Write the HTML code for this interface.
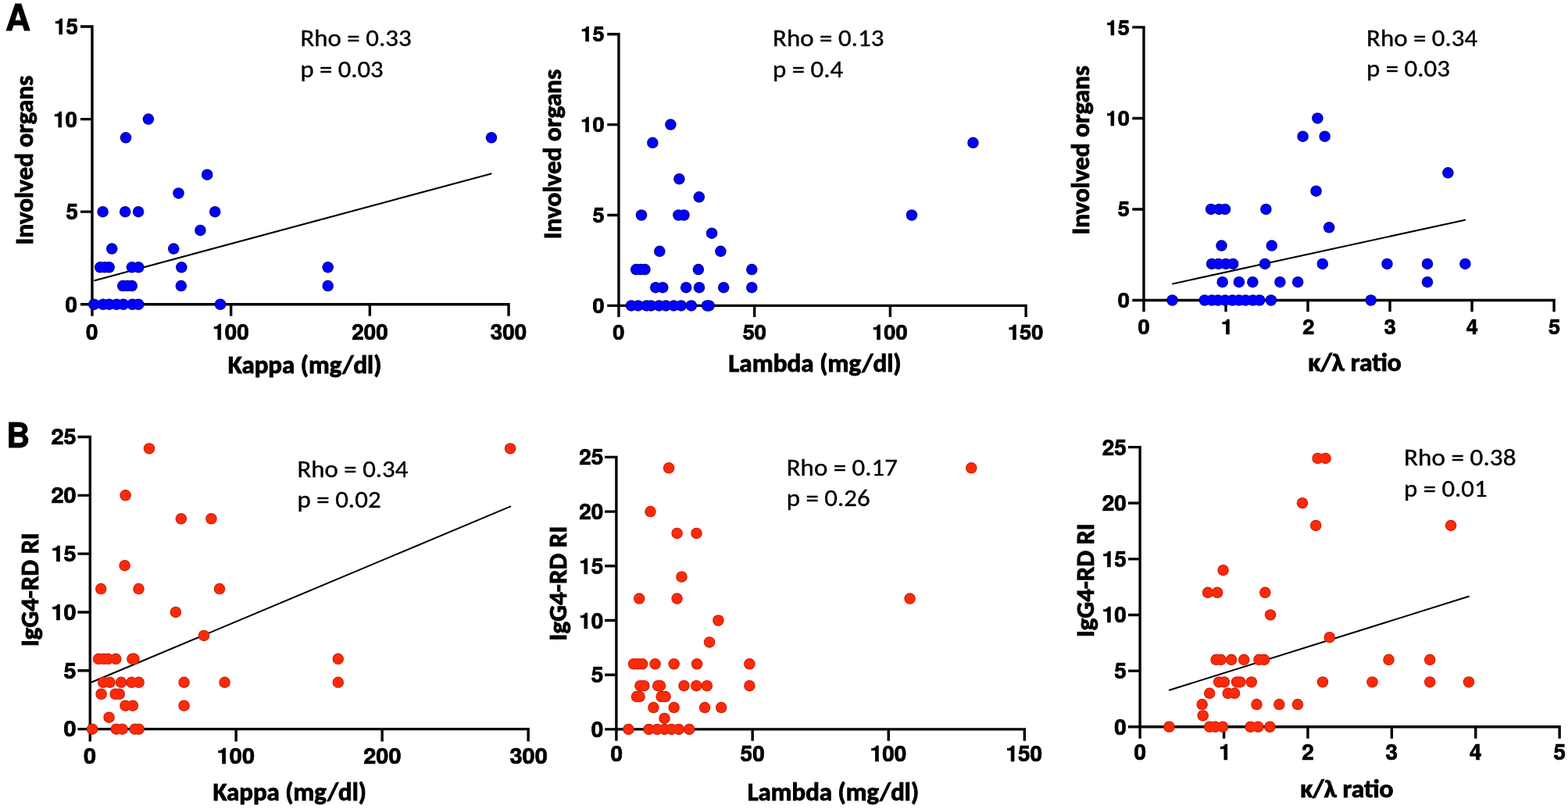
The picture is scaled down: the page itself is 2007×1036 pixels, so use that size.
<!DOCTYPE html>
<html><head><meta charset="utf-8"><title>Figure</title>
<style>
html,body{margin:0;padding:0;background:#fff;overflow:hidden;}
svg{display:block;}
text{fill:#000;}
.t,.p{font-family:'TeX Gyre Heros', FreeSans, 'Liberation Sans', Arial, sans-serif;font-weight:bold;stroke:#000;stroke-width:0.7px;}
.p{stroke-width:0.9px;}
.l{font-family:Carlito, Calibri, 'Liberation Sans', sans-serif;font-weight:bold;stroke:#000;stroke-width:0.9px;}
.a{font-family:Carlito, Calibri, 'Liberation Sans', sans-serif;font-weight:normal;stroke:#000;stroke-width:0.35px;}
</style></head>
<body>
<svg width="2007" height="1036" viewBox="0 0 2007 1036">
<rect width="2007" height="1036" fill="#fff"/>
<path d="M102.95,34H117.95V404.75M102.95,389.75H651.05V404.75M102.95,271.17H117.95M102.95,152.58H117.95M295.65,389.75V404.75M473.35,389.75V404.75" fill="none" stroke="#000" stroke-width="3.4"/>
<path d="M121.2,359.25L628.6,222.4" stroke="#000" stroke-width="2.05" stroke-linecap="round"/>
<g fill="#00008c"><circle cx="189.9" cy="152.58" r="7.25"/><circle cx="161" cy="176.3" r="7.25"/><circle cx="629" cy="176.3" r="7.25"/><circle cx="265.2" cy="223.73" r="7.25"/><circle cx="228.5" cy="247.45" r="7.25"/><circle cx="131.6" cy="271.17" r="7.25"/><circle cx="160.2" cy="271.17" r="7.25"/><circle cx="177.1" cy="271.17" r="7.25"/><circle cx="275.2" cy="271.17" r="7.25"/><circle cx="256.4" cy="294.88" r="7.25"/><circle cx="143.2" cy="318.6" r="7.25"/><circle cx="222.2" cy="318.6" r="7.25"/><circle cx="128.2" cy="342.32" r="7.25"/><circle cx="134" cy="342.32" r="7.25"/><circle cx="139.7" cy="342.32" r="7.25"/><circle cx="168.9" cy="342.32" r="7.25"/><circle cx="177.3" cy="342.32" r="7.25"/><circle cx="232.3" cy="342.32" r="7.25"/><circle cx="419.7" cy="342.32" r="7.25"/><circle cx="157.2" cy="366.03" r="7.25"/><circle cx="163" cy="366.03" r="7.25"/><circle cx="168.8" cy="366.03" r="7.25"/><circle cx="231.8" cy="366.03" r="7.25"/><circle cx="419.7" cy="366.03" r="7.25"/><circle cx="120.3" cy="389.75" r="7.25"/><circle cx="131.9" cy="389.75" r="7.25"/><circle cx="139.8" cy="389.75" r="7.25"/><circle cx="149.2" cy="389.75" r="7.25"/><circle cx="157.9" cy="389.75" r="7.25"/><circle cx="169.5" cy="389.75" r="7.25"/><circle cx="177.1" cy="389.75" r="7.25"/><circle cx="282" cy="389.75" r="7.25"/></g>
<g fill="#0000fe"><circle cx="189.9" cy="152.58" r="6.2"/><circle cx="161" cy="176.3" r="6.2"/><circle cx="629" cy="176.3" r="6.2"/><circle cx="265.2" cy="223.73" r="6.2"/><circle cx="228.5" cy="247.45" r="6.2"/><circle cx="131.6" cy="271.17" r="6.2"/><circle cx="160.2" cy="271.17" r="6.2"/><circle cx="177.1" cy="271.17" r="6.2"/><circle cx="275.2" cy="271.17" r="6.2"/><circle cx="256.4" cy="294.88" r="6.2"/><circle cx="143.2" cy="318.6" r="6.2"/><circle cx="222.2" cy="318.6" r="6.2"/><circle cx="128.2" cy="342.32" r="6.2"/><circle cx="134" cy="342.32" r="6.2"/><circle cx="139.7" cy="342.32" r="6.2"/><circle cx="168.9" cy="342.32" r="6.2"/><circle cx="177.3" cy="342.32" r="6.2"/><circle cx="232.3" cy="342.32" r="6.2"/><circle cx="419.7" cy="342.32" r="6.2"/><circle cx="157.2" cy="366.03" r="6.2"/><circle cx="163" cy="366.03" r="6.2"/><circle cx="168.8" cy="366.03" r="6.2"/><circle cx="231.8" cy="366.03" r="6.2"/><circle cx="419.7" cy="366.03" r="6.2"/><circle cx="120.3" cy="389.75" r="6.2"/><circle cx="131.9" cy="389.75" r="6.2"/><circle cx="139.8" cy="389.75" r="6.2"/><circle cx="149.2" cy="389.75" r="6.2"/><circle cx="157.9" cy="389.75" r="6.2"/><circle cx="169.5" cy="389.75" r="6.2"/><circle cx="177.1" cy="389.75" r="6.2"/><circle cx="282" cy="389.75" r="6.2"/></g>
<path d="M777.25,43.7H791.95V406.1M777.25,391.4H1313.15V406.1M777.25,275.5H791.95M777.25,159.6H791.95M965.68,391.4V406.1M1139.42,391.4V406.1" fill="none" stroke="#000" stroke-width="3.4"/>
<g fill="#00008c"><circle cx="858.4" cy="159.6" r="7.25"/><circle cx="835.3" cy="182.78" r="7.25"/><circle cx="1245.5" cy="182.78" r="7.25"/><circle cx="869.4" cy="229.14" r="7.25"/><circle cx="894.8" cy="252.32" r="7.25"/><circle cx="821" cy="275.5" r="7.25"/><circle cx="868.4" cy="275.5" r="7.25"/><circle cx="875.5" cy="275.5" r="7.25"/><circle cx="1167" cy="275.5" r="7.25"/><circle cx="911.1" cy="298.68" r="7.25"/><circle cx="844.3" cy="321.86" r="7.25"/><circle cx="922.4" cy="321.86" r="7.25"/><circle cx="814.2" cy="345.04" r="7.25"/><circle cx="820" cy="345.04" r="7.25"/><circle cx="825.5" cy="345.04" r="7.25"/><circle cx="893.9" cy="345.04" r="7.25"/><circle cx="962.3" cy="345.04" r="7.25"/><circle cx="839.2" cy="368.22" r="7.25"/><circle cx="848.3" cy="368.22" r="7.25"/><circle cx="878.2" cy="368.22" r="7.25"/><circle cx="895" cy="368.22" r="7.25"/><circle cx="926.2" cy="368.22" r="7.25"/><circle cx="962.3" cy="368.22" r="7.25"/><circle cx="808" cy="391.4" r="7.25"/><circle cx="816.8" cy="391.4" r="7.25"/><circle cx="827.6" cy="391.4" r="7.25"/><circle cx="833.4" cy="391.4" r="7.25"/><circle cx="843.6" cy="391.4" r="7.25"/><circle cx="852.3" cy="391.4" r="7.25"/><circle cx="862.4" cy="391.4" r="7.25"/><circle cx="871.8" cy="391.4" r="7.25"/><circle cx="884.8" cy="391.4" r="7.25"/><circle cx="905" cy="391.4" r="7.25"/><circle cx="907.6" cy="391.4" r="7.25"/></g>
<g fill="#0000fe"><circle cx="858.4" cy="159.6" r="6.2"/><circle cx="835.3" cy="182.78" r="6.2"/><circle cx="1245.5" cy="182.78" r="6.2"/><circle cx="869.4" cy="229.14" r="6.2"/><circle cx="894.8" cy="252.32" r="6.2"/><circle cx="821" cy="275.5" r="6.2"/><circle cx="868.4" cy="275.5" r="6.2"/><circle cx="875.5" cy="275.5" r="6.2"/><circle cx="1167" cy="275.5" r="6.2"/><circle cx="911.1" cy="298.68" r="6.2"/><circle cx="844.3" cy="321.86" r="6.2"/><circle cx="922.4" cy="321.86" r="6.2"/><circle cx="814.2" cy="345.04" r="6.2"/><circle cx="820" cy="345.04" r="6.2"/><circle cx="825.5" cy="345.04" r="6.2"/><circle cx="893.9" cy="345.04" r="6.2"/><circle cx="962.3" cy="345.04" r="6.2"/><circle cx="839.2" cy="368.22" r="6.2"/><circle cx="848.3" cy="368.22" r="6.2"/><circle cx="878.2" cy="368.22" r="6.2"/><circle cx="895" cy="368.22" r="6.2"/><circle cx="926.2" cy="368.22" r="6.2"/><circle cx="962.3" cy="368.22" r="6.2"/><circle cx="808" cy="391.4" r="6.2"/><circle cx="816.8" cy="391.4" r="6.2"/><circle cx="827.6" cy="391.4" r="6.2"/><circle cx="833.4" cy="391.4" r="6.2"/><circle cx="843.6" cy="391.4" r="6.2"/><circle cx="852.3" cy="391.4" r="6.2"/><circle cx="862.4" cy="391.4" r="6.2"/><circle cx="871.8" cy="391.4" r="6.2"/><circle cx="884.8" cy="391.4" r="6.2"/><circle cx="905" cy="391.4" r="6.2"/><circle cx="907.6" cy="391.4" r="6.2"/></g>
<path d="M1449.3,34.9H1464V399.2M1449.3,384.5H1989.1V399.2M1449.3,267.97H1464M1449.3,151.43H1464M1569.02,384.5V399.2M1674.04,384.5V399.2M1779.06,384.5V399.2M1884.08,384.5V399.2" fill="none" stroke="#000" stroke-width="3.4"/>
<path d="M1501.1,363.4L1875.1,281.65" stroke="#000" stroke-width="2.05" stroke-linecap="round"/>
<g fill="#00008c"><circle cx="1686.4" cy="151.43" r="7.25"/><circle cx="1667.6" cy="174.74" r="7.25"/><circle cx="1695.7" cy="174.74" r="7.25"/><circle cx="1853.4" cy="221.35" r="7.25"/><circle cx="1684.6" cy="244.66" r="7.25"/><circle cx="1550.1" cy="267.97" r="7.25"/><circle cx="1560.4" cy="267.97" r="7.25"/><circle cx="1568.1" cy="267.97" r="7.25"/><circle cx="1620.4" cy="267.97" r="7.25"/><circle cx="1701.2" cy="291.27" r="7.25"/><circle cx="1563.5" cy="314.58" r="7.25"/><circle cx="1627.8" cy="314.58" r="7.25"/><circle cx="1551.1" cy="337.89" r="7.25"/><circle cx="1559.6" cy="337.89" r="7.25"/><circle cx="1568.9" cy="337.89" r="7.25"/><circle cx="1578.2" cy="337.89" r="7.25"/><circle cx="1619.1" cy="337.89" r="7.25"/><circle cx="1692.8" cy="337.89" r="7.25"/><circle cx="1775.5" cy="337.89" r="7.25"/><circle cx="1827" cy="337.89" r="7.25"/><circle cx="1875.4" cy="337.89" r="7.25"/><circle cx="1564.7" cy="361.19" r="7.25"/><circle cx="1585.9" cy="361.19" r="7.25"/><circle cx="1603.4" cy="361.19" r="7.25"/><circle cx="1638.4" cy="361.19" r="7.25"/><circle cx="1661.2" cy="361.19" r="7.25"/><circle cx="1827" cy="361.19" r="7.25"/><circle cx="1500.5" cy="384.5" r="7.25"/><circle cx="1541.9" cy="384.5" r="7.25"/><circle cx="1551.1" cy="384.5" r="7.25"/><circle cx="1558.9" cy="384.5" r="7.25"/><circle cx="1568.1" cy="384.5" r="7.25"/><circle cx="1577.4" cy="384.5" r="7.25"/><circle cx="1585.9" cy="384.5" r="7.25"/><circle cx="1594.4" cy="384.5" r="7.25"/><circle cx="1603.7" cy="384.5" r="7.25"/><circle cx="1612.2" cy="384.5" r="7.25"/><circle cx="1626.9" cy="384.5" r="7.25"/><circle cx="1754.7" cy="384.5" r="7.25"/></g>
<g fill="#0000fe"><circle cx="1686.4" cy="151.43" r="6.2"/><circle cx="1667.6" cy="174.74" r="6.2"/><circle cx="1695.7" cy="174.74" r="6.2"/><circle cx="1853.4" cy="221.35" r="6.2"/><circle cx="1684.6" cy="244.66" r="6.2"/><circle cx="1550.1" cy="267.97" r="6.2"/><circle cx="1560.4" cy="267.97" r="6.2"/><circle cx="1568.1" cy="267.97" r="6.2"/><circle cx="1620.4" cy="267.97" r="6.2"/><circle cx="1701.2" cy="291.27" r="6.2"/><circle cx="1563.5" cy="314.58" r="6.2"/><circle cx="1627.8" cy="314.58" r="6.2"/><circle cx="1551.1" cy="337.89" r="6.2"/><circle cx="1559.6" cy="337.89" r="6.2"/><circle cx="1568.9" cy="337.89" r="6.2"/><circle cx="1578.2" cy="337.89" r="6.2"/><circle cx="1619.1" cy="337.89" r="6.2"/><circle cx="1692.8" cy="337.89" r="6.2"/><circle cx="1775.5" cy="337.89" r="6.2"/><circle cx="1827" cy="337.89" r="6.2"/><circle cx="1875.4" cy="337.89" r="6.2"/><circle cx="1564.7" cy="361.19" r="6.2"/><circle cx="1585.9" cy="361.19" r="6.2"/><circle cx="1603.4" cy="361.19" r="6.2"/><circle cx="1638.4" cy="361.19" r="6.2"/><circle cx="1661.2" cy="361.19" r="6.2"/><circle cx="1827" cy="361.19" r="6.2"/><circle cx="1500.5" cy="384.5" r="6.2"/><circle cx="1541.9" cy="384.5" r="6.2"/><circle cx="1551.1" cy="384.5" r="6.2"/><circle cx="1558.9" cy="384.5" r="6.2"/><circle cx="1568.1" cy="384.5" r="6.2"/><circle cx="1577.4" cy="384.5" r="6.2"/><circle cx="1585.9" cy="384.5" r="6.2"/><circle cx="1594.4" cy="384.5" r="6.2"/><circle cx="1603.7" cy="384.5" r="6.2"/><circle cx="1612.2" cy="384.5" r="6.2"/><circle cx="1626.9" cy="384.5" r="6.2"/><circle cx="1754.7" cy="384.5" r="6.2"/></g>
<path d="M99.4,559.5H115.3V949.55M99.4,933.65H676.15V949.55M99.4,858.82H115.3M99.4,783.99H115.3M99.4,709.16H115.3M99.4,634.33H115.3M302.15,933.65V949.55M489.15,933.65V949.55" fill="none" stroke="#000" stroke-width="3.4"/>
<path d="M117,873.8L653.2,648.6" stroke="#000" stroke-width="2.05" stroke-linecap="round"/>
<g fill="#cc1c06"><circle cx="191" cy="574.47" r="7.25"/><circle cx="653.1" cy="574.47" r="7.25"/><circle cx="160.6" cy="634.33" r="7.25"/><circle cx="231.8" cy="664.26" r="7.25"/><circle cx="270.4" cy="664.26" r="7.25"/><circle cx="159.6" cy="724.13" r="7.25"/><circle cx="129.2" cy="754.06" r="7.25"/><circle cx="177.5" cy="754.06" r="7.25"/><circle cx="281" cy="754.06" r="7.25"/><circle cx="224.9" cy="783.99" r="7.25"/><circle cx="261" cy="813.92" r="7.25"/><circle cx="126.1" cy="843.85" r="7.25"/><circle cx="132.7" cy="843.85" r="7.25"/><circle cx="138.3" cy="843.85" r="7.25"/><circle cx="148.3" cy="843.85" r="7.25"/><circle cx="169.4" cy="843.85" r="7.25"/><circle cx="171.5" cy="843.85" r="7.25"/><circle cx="432.8" cy="843.85" r="7.25"/><circle cx="132.2" cy="873.79" r="7.25"/><circle cx="140.5" cy="873.79" r="7.25"/><circle cx="155" cy="873.79" r="7.25"/><circle cx="168.3" cy="873.79" r="7.25"/><circle cx="177.7" cy="873.79" r="7.25"/><circle cx="235.6" cy="873.79" r="7.25"/><circle cx="287.6" cy="873.79" r="7.25"/><circle cx="432.8" cy="873.79" r="7.25"/><circle cx="129.6" cy="888.75" r="7.25"/><circle cx="147.7" cy="888.75" r="7.25"/><circle cx="152.7" cy="888.75" r="7.25"/><circle cx="160.5" cy="903.72" r="7.25"/><circle cx="169.9" cy="903.72" r="7.25"/><circle cx="235.6" cy="903.72" r="7.25"/><circle cx="139.6" cy="918.68" r="7.25"/><circle cx="118.1" cy="933.65" r="7.25"/><circle cx="148.8" cy="933.65" r="7.25"/><circle cx="156.6" cy="933.65" r="7.25"/><circle cx="172.7" cy="933.65" r="7.25"/><circle cx="177.7" cy="933.65" r="7.25"/></g>
<g fill="#fb2a08"><circle cx="191" cy="574.47" r="6.2"/><circle cx="653.1" cy="574.47" r="6.2"/><circle cx="160.6" cy="634.33" r="6.2"/><circle cx="231.8" cy="664.26" r="6.2"/><circle cx="270.4" cy="664.26" r="6.2"/><circle cx="159.6" cy="724.13" r="6.2"/><circle cx="129.2" cy="754.06" r="6.2"/><circle cx="177.5" cy="754.06" r="6.2"/><circle cx="281" cy="754.06" r="6.2"/><circle cx="224.9" cy="783.99" r="6.2"/><circle cx="261" cy="813.92" r="6.2"/><circle cx="126.1" cy="843.85" r="6.2"/><circle cx="132.7" cy="843.85" r="6.2"/><circle cx="138.3" cy="843.85" r="6.2"/><circle cx="148.3" cy="843.85" r="6.2"/><circle cx="169.4" cy="843.85" r="6.2"/><circle cx="171.5" cy="843.85" r="6.2"/><circle cx="432.8" cy="843.85" r="6.2"/><circle cx="132.2" cy="873.79" r="6.2"/><circle cx="140.5" cy="873.79" r="6.2"/><circle cx="155" cy="873.79" r="6.2"/><circle cx="168.3" cy="873.79" r="6.2"/><circle cx="177.7" cy="873.79" r="6.2"/><circle cx="235.6" cy="873.79" r="6.2"/><circle cx="287.6" cy="873.79" r="6.2"/><circle cx="432.8" cy="873.79" r="6.2"/><circle cx="129.6" cy="888.75" r="6.2"/><circle cx="147.7" cy="888.75" r="6.2"/><circle cx="152.7" cy="888.75" r="6.2"/><circle cx="160.5" cy="903.72" r="6.2"/><circle cx="169.9" cy="903.72" r="6.2"/><circle cx="235.6" cy="903.72" r="6.2"/><circle cx="139.6" cy="918.68" r="6.2"/><circle cx="118.1" cy="933.65" r="6.2"/><circle cx="148.8" cy="933.65" r="6.2"/><circle cx="156.6" cy="933.65" r="6.2"/><circle cx="172.7" cy="933.65" r="6.2"/><circle cx="177.7" cy="933.65" r="6.2"/></g>
<path d="M774.1,585.4H788.9V948.7M774.1,933.9H1311.35V948.7M774.1,864.2H788.9M774.1,794.5H788.9M774.1,724.8H788.9M774.1,655.1H788.9M963.18,933.9V948.7M1137.27,933.9V948.7" fill="none" stroke="#000" stroke-width="3.4"/>
<g fill="#cc1c06"><circle cx="856.1" cy="599.34" r="7.25"/><circle cx="1243.3" cy="599.34" r="7.25"/><circle cx="832.5" cy="655.1" r="7.25"/><circle cx="866.6" cy="682.98" r="7.25"/><circle cx="891.5" cy="682.98" r="7.25"/><circle cx="872.5" cy="738.74" r="7.25"/><circle cx="818.2" cy="766.62" r="7.25"/><circle cx="866.6" cy="766.62" r="7.25"/><circle cx="1164.6" cy="766.62" r="7.25"/><circle cx="919.4" cy="794.5" r="7.25"/><circle cx="908.1" cy="822.38" r="7.25"/><circle cx="811.1" cy="850.26" r="7.25"/><circle cx="816.5" cy="850.26" r="7.25"/><circle cx="822.1" cy="850.26" r="7.25"/><circle cx="838.6" cy="850.26" r="7.25"/><circle cx="862.7" cy="850.26" r="7.25"/><circle cx="892.1" cy="850.26" r="7.25"/><circle cx="959.4" cy="850.26" r="7.25"/><circle cx="819.4" cy="878.14" r="7.25"/><circle cx="824.4" cy="878.14" r="7.25"/><circle cx="842.2" cy="878.14" r="7.25"/><circle cx="845" cy="878.14" r="7.25"/><circle cx="875.5" cy="878.14" r="7.25"/><circle cx="891.3" cy="878.14" r="7.25"/><circle cx="904.9" cy="878.14" r="7.25"/><circle cx="959.4" cy="878.14" r="7.25"/><circle cx="815" cy="892.08" r="7.25"/><circle cx="818.6" cy="892.08" r="7.25"/><circle cx="846.6" cy="892.08" r="7.25"/><circle cx="851.6" cy="892.08" r="7.25"/><circle cx="836.4" cy="906.02" r="7.25"/><circle cx="862.7" cy="906.02" r="7.25"/><circle cx="902.1" cy="906.02" r="7.25"/><circle cx="923.2" cy="906.02" r="7.25"/><circle cx="850.5" cy="919.96" r="7.25"/><circle cx="804.4" cy="933.9" r="7.25"/><circle cx="830.5" cy="933.9" r="7.25"/><circle cx="841.1" cy="933.9" r="7.25"/><circle cx="850.5" cy="933.9" r="7.25"/><circle cx="859.4" cy="933.9" r="7.25"/><circle cx="868.8" cy="933.9" r="7.25"/><circle cx="882.2" cy="933.9" r="7.25"/></g>
<g fill="#fb2a08"><circle cx="856.1" cy="599.34" r="6.2"/><circle cx="1243.3" cy="599.34" r="6.2"/><circle cx="832.5" cy="655.1" r="6.2"/><circle cx="866.6" cy="682.98" r="6.2"/><circle cx="891.5" cy="682.98" r="6.2"/><circle cx="872.5" cy="738.74" r="6.2"/><circle cx="818.2" cy="766.62" r="6.2"/><circle cx="866.6" cy="766.62" r="6.2"/><circle cx="1164.6" cy="766.62" r="6.2"/><circle cx="919.4" cy="794.5" r="6.2"/><circle cx="908.1" cy="822.38" r="6.2"/><circle cx="811.1" cy="850.26" r="6.2"/><circle cx="816.5" cy="850.26" r="6.2"/><circle cx="822.1" cy="850.26" r="6.2"/><circle cx="838.6" cy="850.26" r="6.2"/><circle cx="862.7" cy="850.26" r="6.2"/><circle cx="892.1" cy="850.26" r="6.2"/><circle cx="959.4" cy="850.26" r="6.2"/><circle cx="819.4" cy="878.14" r="6.2"/><circle cx="824.4" cy="878.14" r="6.2"/><circle cx="842.2" cy="878.14" r="6.2"/><circle cx="845" cy="878.14" r="6.2"/><circle cx="875.5" cy="878.14" r="6.2"/><circle cx="891.3" cy="878.14" r="6.2"/><circle cx="904.9" cy="878.14" r="6.2"/><circle cx="959.4" cy="878.14" r="6.2"/><circle cx="815" cy="892.08" r="6.2"/><circle cx="818.6" cy="892.08" r="6.2"/><circle cx="846.6" cy="892.08" r="6.2"/><circle cx="851.6" cy="892.08" r="6.2"/><circle cx="836.4" cy="906.02" r="6.2"/><circle cx="862.7" cy="906.02" r="6.2"/><circle cx="902.1" cy="906.02" r="6.2"/><circle cx="923.2" cy="906.02" r="6.2"/><circle cx="850.5" cy="919.96" r="6.2"/><circle cx="804.4" cy="933.9" r="6.2"/><circle cx="830.5" cy="933.9" r="6.2"/><circle cx="841.1" cy="933.9" r="6.2"/><circle cx="850.5" cy="933.9" r="6.2"/><circle cx="859.4" cy="933.9" r="6.2"/><circle cx="868.8" cy="933.9" r="6.2"/><circle cx="882.2" cy="933.9" r="6.2"/></g>
<path d="M1444.05,572.6H1459.15V945.85M1444.05,930.75H1996.15V945.85M1444.05,859.12H1459.15M1444.05,787.49H1459.15M1444.05,715.86H1459.15M1444.05,644.23H1459.15M1566.59,930.75V945.85M1673.98,930.75V945.85M1781.37,930.75V945.85M1888.76,930.75V945.85" fill="none" stroke="#000" stroke-width="3.4"/>
<path d="M1496.8,883.8L1880,763.8" stroke="#000" stroke-width="2.05" stroke-linecap="round"/>
<g fill="#cc1c06"><circle cx="1686.6" cy="586.93" r="7.25"/><circle cx="1696.6" cy="586.93" r="7.25"/><circle cx="1667" cy="644.23" r="7.25"/><circle cx="1684.2" cy="672.88" r="7.25"/><circle cx="1857.1" cy="672.88" r="7.25"/><circle cx="1565.6" cy="730.19" r="7.25"/><circle cx="1546" cy="758.84" r="7.25"/><circle cx="1558.2" cy="758.84" r="7.25"/><circle cx="1619.3" cy="758.84" r="7.25"/><circle cx="1626.1" cy="787.49" r="7.25"/><circle cx="1701.8" cy="816.14" r="7.25"/><circle cx="1556.6" cy="844.79" r="7.25"/><circle cx="1562.6" cy="844.79" r="7.25"/><circle cx="1576.1" cy="844.79" r="7.25"/><circle cx="1592.2" cy="844.79" r="7.25"/><circle cx="1611.5" cy="844.79" r="7.25"/><circle cx="1618.1" cy="844.79" r="7.25"/><circle cx="1777.5" cy="844.79" r="7.25"/><circle cx="1830.2" cy="844.79" r="7.25"/><circle cx="1560.2" cy="873.45" r="7.25"/><circle cx="1566.9" cy="873.45" r="7.25"/><circle cx="1583.1" cy="873.45" r="7.25"/><circle cx="1587.4" cy="873.45" r="7.25"/><circle cx="1601.8" cy="873.45" r="7.25"/><circle cx="1693" cy="873.45" r="7.25"/><circle cx="1756.5" cy="873.45" r="7.25"/><circle cx="1830.2" cy="873.45" r="7.25"/><circle cx="1880" cy="873.45" r="7.25"/><circle cx="1548.2" cy="887.77" r="7.25"/><circle cx="1571.7" cy="887.77" r="7.25"/><circle cx="1580.1" cy="887.77" r="7.25"/><circle cx="1538.7" cy="902.1" r="7.25"/><circle cx="1608.5" cy="902.1" r="7.25"/><circle cx="1637.4" cy="902.1" r="7.25"/><circle cx="1661" cy="902.1" r="7.25"/><circle cx="1539.7" cy="916.42" r="7.25"/><circle cx="1496.5" cy="930.75" r="7.25"/><circle cx="1548.2" cy="930.75" r="7.25"/><circle cx="1555.4" cy="930.75" r="7.25"/><circle cx="1565" cy="930.75" r="7.25"/><circle cx="1600.6" cy="930.75" r="7.25"/><circle cx="1610.3" cy="930.75" r="7.25"/><circle cx="1625.4" cy="930.75" r="7.25"/></g>
<g fill="#fb2a08"><circle cx="1686.6" cy="586.93" r="6.2"/><circle cx="1696.6" cy="586.93" r="6.2"/><circle cx="1667" cy="644.23" r="6.2"/><circle cx="1684.2" cy="672.88" r="6.2"/><circle cx="1857.1" cy="672.88" r="6.2"/><circle cx="1565.6" cy="730.19" r="6.2"/><circle cx="1546" cy="758.84" r="6.2"/><circle cx="1558.2" cy="758.84" r="6.2"/><circle cx="1619.3" cy="758.84" r="6.2"/><circle cx="1626.1" cy="787.49" r="6.2"/><circle cx="1701.8" cy="816.14" r="6.2"/><circle cx="1556.6" cy="844.79" r="6.2"/><circle cx="1562.6" cy="844.79" r="6.2"/><circle cx="1576.1" cy="844.79" r="6.2"/><circle cx="1592.2" cy="844.79" r="6.2"/><circle cx="1611.5" cy="844.79" r="6.2"/><circle cx="1618.1" cy="844.79" r="6.2"/><circle cx="1777.5" cy="844.79" r="6.2"/><circle cx="1830.2" cy="844.79" r="6.2"/><circle cx="1560.2" cy="873.45" r="6.2"/><circle cx="1566.9" cy="873.45" r="6.2"/><circle cx="1583.1" cy="873.45" r="6.2"/><circle cx="1587.4" cy="873.45" r="6.2"/><circle cx="1601.8" cy="873.45" r="6.2"/><circle cx="1693" cy="873.45" r="6.2"/><circle cx="1756.5" cy="873.45" r="6.2"/><circle cx="1830.2" cy="873.45" r="6.2"/><circle cx="1880" cy="873.45" r="6.2"/><circle cx="1548.2" cy="887.77" r="6.2"/><circle cx="1571.7" cy="887.77" r="6.2"/><circle cx="1580.1" cy="887.77" r="6.2"/><circle cx="1538.7" cy="902.1" r="6.2"/><circle cx="1608.5" cy="902.1" r="6.2"/><circle cx="1637.4" cy="902.1" r="6.2"/><circle cx="1661" cy="902.1" r="6.2"/><circle cx="1539.7" cy="916.42" r="6.2"/><circle cx="1496.5" cy="930.75" r="6.2"/><circle cx="1548.2" cy="930.75" r="6.2"/><circle cx="1555.4" cy="930.75" r="6.2"/><circle cx="1565" cy="930.75" r="6.2"/><circle cx="1600.6" cy="930.75" r="6.2"/><circle cx="1610.3" cy="930.75" r="6.2"/><circle cx="1625.4" cy="930.75" r="6.2"/></g>
<text x="7" y="38.6" textLength="32" lengthAdjust="spacingAndGlyphs" class="p" style="font-size:47px">A</text>
<text x="8.2" y="572.5" textLength="30" lengthAdjust="spacingAndGlyphs" class="p" style="font-size:44px">B</text>
<text x="291.8" y="477.7" textLength="196.6" lengthAdjust="spacingAndGlyphs" class="l" style="font-size:32px">Kappa (mg/dl)</text>
<text transform="translate(41.85,205.1) rotate(-90)" text-anchor="middle" textLength="216.6" lengthAdjust="spacingAndGlyphs" class="l" style="font-size:32.3px">Involved organs</text>
<text x="384.4" y="58.9" textLength="142.2" lengthAdjust="spacingAndGlyphs" class="a" style="font-size:31.6px">Rho = 0.33</text>
<text x="384.4" y="98.7" textLength="106.2" lengthAdjust="spacingAndGlyphs" class="a" style="font-size:31.6px">p = 0.03</text>
<text x="99.05" y="399.77" text-anchor="end" class="t" style="font-size:27.8px">0</text>
<text x="100.05" y="280.92" text-anchor="end" class="t" style="font-size:27.8px">5</text>
<text x="99.05" y="163.07" text-anchor="end" class="t" style="font-size:27.8px">10</text>
<text x="100.05" y="44.22" text-anchor="end" class="t" style="font-size:27.8px">15</text>
<text x="117.85" y="434.8" text-anchor="middle" class="t" style="font-size:27.8px">0</text>
<text x="295.45" y="434.8" text-anchor="middle" class="t" style="font-size:27.8px">100</text>
<text x="473.55" y="434.8" text-anchor="middle" class="t" style="font-size:27.8px">200</text>
<text x="651.05" y="434.8" text-anchor="middle" class="t" style="font-size:27.8px">300</text>
<text x="932.3" y="476.4" textLength="221.4" lengthAdjust="spacingAndGlyphs" class="l" style="font-size:32px">Lambda (mg/dl)</text>
<text transform="translate(717.5,197.5) rotate(-90)" text-anchor="middle" textLength="217.4" lengthAdjust="spacingAndGlyphs" class="l" style="font-size:32.3px">Involved organs</text>
<text x="989" y="59" textLength="142.5" lengthAdjust="spacingAndGlyphs" class="a" style="font-size:31.6px">Rho = 0.13</text>
<text x="989" y="98.6" textLength="90.3" lengthAdjust="spacingAndGlyphs" class="a" style="font-size:31.6px">p = 0.4</text>
<text x="773.65" y="400.92" text-anchor="end" class="t" style="font-size:27.3px">0</text>
<text x="773.65" y="284.62" text-anchor="end" class="t" style="font-size:27.3px">5</text>
<text x="773.65" y="169.32" text-anchor="end" class="t" style="font-size:27.3px">10</text>
<text x="773.65" y="53.02" text-anchor="end" class="t" style="font-size:27.3px">15</text>
<text x="791.85" y="435" text-anchor="middle" class="t" style="font-size:27.3px">0</text>
<text x="965.84" y="435" text-anchor="middle" class="t" style="font-size:27.3px">50</text>
<text x="1138.96" y="435" text-anchor="middle" class="t" style="font-size:27.3px">100</text>
<text x="1312.65" y="435" text-anchor="middle" class="t" style="font-size:27.3px">150</text>
<text x="1674.3" y="475" textLength="119.5" lengthAdjust="spacingAndGlyphs" class="l" style="font-size:32px">κ/λ ratio</text>
<text transform="translate(1394,192.3) rotate(-90)" text-anchor="middle" textLength="216.6" lengthAdjust="spacingAndGlyphs" class="l" style="font-size:32.3px">Involved organs</text>
<text x="1749" y="59" textLength="142.2" lengthAdjust="spacingAndGlyphs" class="a" style="font-size:31.6px">Rho = 0.34</text>
<text x="1749" y="98.3" textLength="106.9" lengthAdjust="spacingAndGlyphs" class="a" style="font-size:31.6px">p = 0.03</text>
<text x="1445.9" y="394.22" text-anchor="end" class="t" style="font-size:27.3px">0</text>
<text x="1445.9" y="277.42" text-anchor="end" class="t" style="font-size:27.3px">5</text>
<text x="1445.9" y="160.62" text-anchor="end" class="t" style="font-size:27.3px">10</text>
<text x="1445.9" y="44.82" text-anchor="end" class="t" style="font-size:27.3px">15</text>
<text x="1464" y="428.4" text-anchor="middle" class="t" style="font-size:27.3px">0</text>
<text x="1570.66" y="428.4" text-anchor="middle" class="t" style="font-size:27.3px">1</text>
<text x="1674.72" y="428.4" text-anchor="middle" class="t" style="font-size:27.3px">2</text>
<text x="1779.38" y="428.4" text-anchor="middle" class="t" style="font-size:27.3px">3</text>
<text x="1884.44" y="428.4" text-anchor="middle" class="t" style="font-size:27.3px">4</text>
<text x="1989.5" y="428.4" text-anchor="middle" class="t" style="font-size:27.3px">5</text>
<text x="272.4" y="1024.8" textLength="196.7" lengthAdjust="spacingAndGlyphs" class="l" style="font-size:32px">Kappa (mg/dl)</text>
<text transform="translate(49,755.2) rotate(-90)" text-anchor="middle" textLength="145.6" lengthAdjust="spacingAndGlyphs" class="l" style="font-size:32.3px">IgG4-RD RI</text>
<text x="380.5" y="611" textLength="141.9" lengthAdjust="spacingAndGlyphs" class="a" style="font-size:31.6px">Rho = 0.34</text>
<text x="380.5" y="650.3" textLength="107.1" lengthAdjust="spacingAndGlyphs" class="a" style="font-size:31.6px">p = 0.02</text>
<text x="97.65" y="943.37" text-anchor="end" class="t" style="font-size:29px">0</text>
<text x="97.65" y="869.3" text-anchor="end" class="t" style="font-size:29px">5</text>
<text x="97.65" y="794.23" text-anchor="end" class="t" style="font-size:29px">10</text>
<text x="97.65" y="719.16" text-anchor="end" class="t" style="font-size:29px">15</text>
<text x="97.65" y="644.09" text-anchor="end" class="t" style="font-size:29px">20</text>
<text x="97.65" y="569.02" text-anchor="end" class="t" style="font-size:29px">25</text>
<text x="115.15" y="977.6" text-anchor="middle" class="t" style="font-size:29px">0</text>
<text x="301.95" y="977.6" text-anchor="middle" class="t" style="font-size:29px">100</text>
<text x="489.45" y="977.6" text-anchor="middle" class="t" style="font-size:29px">200</text>
<text x="676.65" y="977.6" text-anchor="middle" class="t" style="font-size:29px">300</text>
<text x="956.7" y="1024.9" textLength="219.5" lengthAdjust="spacingAndGlyphs" class="l" style="font-size:32px">Lambda (mg/dl)</text>
<text transform="translate(724.5,747.1) rotate(-90)" text-anchor="middle" textLength="146.6" lengthAdjust="spacingAndGlyphs" class="l" style="font-size:32.3px">IgG4-RD RI</text>
<text x="1006.7" y="609" textLength="142.3" lengthAdjust="spacingAndGlyphs" class="a" style="font-size:31.6px">Rho = 0.17</text>
<text x="1006.7" y="648.3" textLength="107.1" lengthAdjust="spacingAndGlyphs" class="a" style="font-size:31.6px">p = 0.26</text>
<text x="772.4" y="944.22" text-anchor="end" class="t" style="font-size:28px">0</text>
<text x="772.4" y="874.42" text-anchor="end" class="t" style="font-size:28px">5</text>
<text x="772.4" y="804.62" text-anchor="end" class="t" style="font-size:28px">10</text>
<text x="772.4" y="734.82" text-anchor="end" class="t" style="font-size:28px">15</text>
<text x="772.4" y="665.02" text-anchor="end" class="t" style="font-size:28px">20</text>
<text x="772.4" y="595.22" text-anchor="end" class="t" style="font-size:28px">25</text>
<text x="789.4" y="975" text-anchor="middle" class="t" style="font-size:28px">0</text>
<text x="963.14" y="975" text-anchor="middle" class="t" style="font-size:28px">50</text>
<text x="1137.01" y="975" text-anchor="middle" class="t" style="font-size:28px">100</text>
<text x="1310.75" y="975" text-anchor="middle" class="t" style="font-size:28px">150</text>
<text x="1664.2" y="1021.3" textLength="119.4" lengthAdjust="spacingAndGlyphs" class="l" style="font-size:32px">κ/λ ratio</text>
<text transform="translate(1399.5,743.2) rotate(-90)" text-anchor="middle" textLength="145.6" lengthAdjust="spacingAndGlyphs" class="l" style="font-size:32.3px">IgG4-RD RI</text>
<text x="1797.1" y="596.3" textLength="143.4" lengthAdjust="spacingAndGlyphs" class="a" style="font-size:31.6px">Rho = 0.38</text>
<text x="1797.1" y="635.7" textLength="106.4" lengthAdjust="spacingAndGlyphs" class="a" style="font-size:31.6px">p = 0.01</text>
<text x="1441.9" y="940.57" text-anchor="end" class="t" style="font-size:28px">0</text>
<text x="1441.9" y="869.38" text-anchor="end" class="t" style="font-size:28px">5</text>
<text x="1441.9" y="797.19" text-anchor="end" class="t" style="font-size:28px">10</text>
<text x="1441.9" y="726" text-anchor="end" class="t" style="font-size:28px">15</text>
<text x="1441.9" y="653.81" text-anchor="end" class="t" style="font-size:28px">20</text>
<text x="1441.9" y="582.62" text-anchor="end" class="t" style="font-size:28px">25</text>
<text x="1459.2" y="973" text-anchor="middle" class="t" style="font-size:28px">0</text>
<text x="1568.07" y="973" text-anchor="middle" class="t" style="font-size:28px">1</text>
<text x="1674.04" y="973" text-anchor="middle" class="t" style="font-size:28px">2</text>
<text x="1781.31" y="973" text-anchor="middle" class="t" style="font-size:28px">3</text>
<text x="1888.78" y="973" text-anchor="middle" class="t" style="font-size:28px">4</text>
<text x="1996.35" y="973" text-anchor="middle" class="t" style="font-size:28px">5</text>
</svg>
</body></html>
